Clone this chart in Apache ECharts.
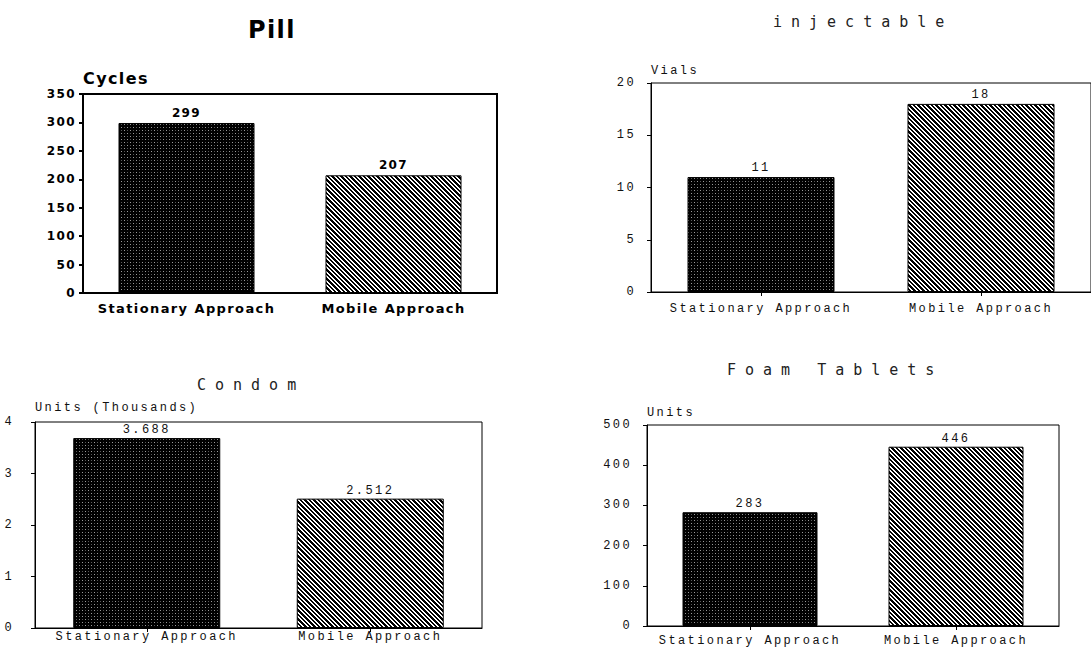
<!DOCTYPE html>
<html>
<head>
<meta charset="utf-8">
<script src="https://cdn.jsdelivr.net/npm/echarts@6/dist/echarts.min.js"></script>
<style>
  html, body { margin: 0; padding: 0; background: #fff; }
  #chart { width: 1091px; height: 651px; }
  /* wide, even spacing of the plotter-style lettering */
  #chart text[style*="bold"] { letter-spacing: 1.4px; }
  #chart text[style*="Liberation Mono"] { letter-spacing: 2.4px; }
  #chart text[style*="DejaVu Sans Mono"] { letter-spacing: 9px; }
</style>
</head>
<body>
<div id="chart"></div>
<script>
// Contraceptive distribution by approach
const categories = ['Stationary Approach', 'Mobile Approach'];
const pillCycles = [299, 207];
const injectableVials = [11, 18];
const condomThousands = [3.688, 2.512];
const foamUnits = [283, 446];

const pillTicks = [0, 50, 100, 150, 200, 250, 300, 350];
const injectableTicks = [0, 5, 10, 15, 20];
const condomTicks = [0, 1, 2, 3, 4];
const foamTicks = [0, 100, 200, 300, 400, 500];

// Repeating fill tiles: dark stipple for stationary, diagonal hatch for mobile
function tile(w, h, draw) {
  const c = document.createElement('canvas');
  c.width = w; c.height = h;
  draw(c.getContext('2d'));
  return { image: c, repeat: 'repeat', imageWidth: w, imageHeight: h };
}
const stipple = tile(6, 6, ctx => {
  ctx.fillStyle = '#000'; ctx.fillRect(0, 0, 6, 6);
  ctx.fillStyle = '#9c9c9c'; ctx.fillRect(1, 1, 1, 1); ctx.fillRect(4, 4, 1, 1);
  ctx.fillStyle = '#555'; ctx.fillRect(4, 1, 1, 1); ctx.fillRect(1, 4, 1, 1);
});
const hatch = tile(9, 9, ctx => {
  ctx.fillStyle = '#000'; ctx.fillRect(0, 0, 9, 9);
  ctx.fillStyle = '#fff';
  for (let y = 0; y < 9; y++) for (let x = 0; x < 9; x++) {
    const d = ((x - y) % 9 + 9) % 9;
    if (d === 0 || d === 1 || d === 5 || d === 6) ctx.fillRect(x, y, 1, 1);
  }
});
const fills = [stipple, hatch];

const boldText = { fontFamily: 'DejaVu Sans', fontWeight: 'bold', color: '#000' };
const monoText = { fontFamily: 'Liberation Mono', fontWeight: 'normal', fontSize: 12, color: '#111' };
const titleText = { fontFamily: 'DejaVu Sans Mono', fontWeight: 'normal', fontSize: 15, color: '#222' };

function valueAxis(gridIndex, ticks, name, nameGap, nameText, text, labelMargin, lineWidth) {
  return {
    type: 'value', gridIndex,
    min: ticks[0], max: ticks[ticks.length - 1], interval: ticks[1] - ticks[0],
    name, nameLocation: 'end', nameGap,
    nameTextStyle: Object.assign({}, nameText, { align: 'left', verticalAlign: 'middle' }),
    axisLine: { show: true, lineStyle: { color: '#000', width: lineWidth } },
    axisTick: { show: true, inside: false, length: 4, lineStyle: { color: '#000', width: lineWidth } },
    axisLabel: Object.assign({}, text, { margin: labelMargin }),
    splitLine: { show: false }
  };
}
function categoryAxis(gridIndex, text, labelMargin, showTick, lineWidth) {
  return {
    type: 'category', gridIndex, data: categories,
    axisLine: { show: true, lineStyle: { color: '#000', width: lineWidth } },
    axisTick: { show: showTick, alignWithLabel: true, length: 4, lineStyle: { color: '#000' } },
    axisLabel: Object.assign({}, text, { margin: labelMargin, interval: 0 })
  };
}
function barSeries(index, values, barWidth, labelText, labelDistance) {
  return {
    type: 'bar', xAxisIndex: index, yAxisIndex: index, barWidth,
    data: values.map((v, i) => ({ value: v, itemStyle: { color: fills[i] } })),
    itemStyle: { borderColor: '#000', borderWidth: 1 },
    label: Object.assign({ show: true, position: 'top', distance: labelDistance }, labelText),
    emphasis: { disabled: true }
  };
}

const pillSmall = Object.assign({}, boldText, { fontSize: 12 });

const chart = echarts.init(document.getElementById('chart'), null, { renderer: 'svg' });
chart.setOption({
  backgroundColor: '#fff',
  animation: false,
  title: [
    { text: 'Pill', left: 243, top: 13, textStyle: Object.assign({}, boldText, { fontSize: 24 }) },
    { text: 'injectable', left: 768, top: 9, textStyle: titleText },
    { text: 'Condom', left: 192, top: 372, textStyle: titleText },
    { text: 'Foam Tablets', left: 722, top: 357, textStyle: titleText }
  ],
  grid: [
    { left: 83, top: 94, width: 414, height: 199, show: true, borderColor: '#000', borderWidth: 2, backgroundColor: 'transparent' },
    { left: 651, top: 83, width: 449, height: 209, show: true, borderColor: '#000', borderWidth: 1, backgroundColor: 'transparent' },
    { left: 35, top: 422, width: 447, height: 206, show: true, borderColor: '#000', borderWidth: 1, backgroundColor: 'transparent' },
    { left: 647, top: 425, width: 412, height: 201, show: true, borderColor: '#000', borderWidth: 1, backgroundColor: 'transparent' }
  ],
  xAxis: [
    categoryAxis(0, Object.assign({}, boldText, { fontSize: 13 }), 9, false, 2),
    categoryAxis(1, monoText, 11, true, 1),
    categoryAxis(2, monoText, 3, true, 1),
    categoryAxis(3, monoText, 9, true, 1)
  ],
  yAxis: [
    valueAxis(0, pillTicks, 'Cycles', 16, Object.assign({}, boldText, { fontSize: 16 }), pillSmall, 7, 2),
    valueAxis(1, injectableTicks, 'Vials', 12, monoText, monoText, 15, 1),
    valueAxis(2, condomTicks, 'Units (Thousands)', 14, monoText, monoText, 21, 1),
    valueAxis(3, foamTicks, 'Units', 12, monoText, monoText, 15, 1)
  ],
  series: [
    barSeries(0, pillCycles, 136, pillSmall, 4),
    barSeries(1, injectableVials, 147, monoText, 3),
    barSeries(2, condomThousands, 147, monoText, 2),
    barSeries(3, foamUnits, 135, monoText, 2)
  ]
});
</script>
</body>
</html>
